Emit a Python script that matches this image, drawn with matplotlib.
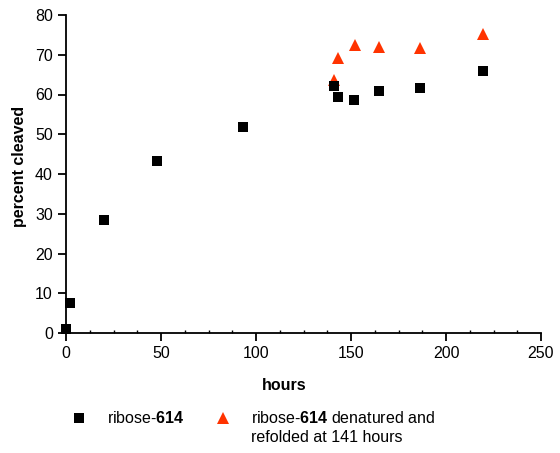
import matplotlib
matplotlib.use("Agg")
import matplotlib.pyplot as plt
from matplotlib.lines import Line2D
from matplotlib.ticker import MultipleLocator

plt.rcParams["font.family"] = ["Liberation Sans", "DejaVu Sans"]
plt.rcParams["mathtext.fontset"] = "custom"
plt.rcParams["mathtext.rm"] = "Liberation Sans"
plt.rcParams["mathtext.bf"] = "Liberation Sans:bold"

# ribose-614 cleavage time course
hours_native = [0, 2, 20, 48, 93, 141, 143, 151.5, 164.5, 186.5, 219.5]
cleaved_native = [1.0, 7.5, 28.4, 43.2, 51.8, 62.1, 59.4, 58.6, 60.9, 61.7, 65.9]

# sample denatured and refolded at 141 hours
hours_refolded = [141, 143, 152, 164.5, 186.5, 219.5]
cleaved_refolded = [63.6, 69.1, 72.4, 72.0, 71.8, 75.3]

x_ticks = [0, 50, 100, 150, 200, 250]
y_ticks = [0, 10, 20, 30, 40, 50, 60, 70, 80]

RED = "#ff3300"
FS = 11.5

W, H = 560, 453
fig = plt.figure(figsize=(W / 100, H / 100), dpi=100)
ax = fig.add_axes([66 / W, 1 - 333 / H, (541 - 66) / W, (333 - 15) / H])

ax.plot(hours_refolded, cleaved_refolded, linestyle="none", marker="^",
        markersize=8, color=RED, markeredgewidth=0, zorder=3, clip_on=False)
ax.plot(hours_native, cleaved_native, linestyle="none", marker="s",
        markersize=7.6, color="black", markeredgewidth=0, zorder=4, clip_on=False)

ax.set_xlim(0, 250)
ax.set_ylim(0, 80)
ax.set_xticks(x_ticks)
ax.set_yticks(y_ticks)
ax.xaxis.set_minor_locator(MultipleLocator(12.5))
for s in ("top", "right"):
    ax.spines[s].set_visible(False)
for s in ("left", "bottom"):
    ax.spines[s].set_linewidth(1.3)
ax.tick_params(which="major", direction="out", length=6, width=1.3,
               pad=3.5, labelsize=FS, colors="black")
ax.tick_params(axis="x", which="minor", direction="in", length=2, width=1)

fig.text(284 / W, 1 - 386 / H, "hours", ha="center", va="center",
         fontsize=FS, fontweight="bold")
fig.text(20 / W, 1 - 166 / H, "percent cleaved", ha="center", va="center",
         rotation=90, fontsize=FS, fontweight="bold")

# key
fig.add_artist(Line2D([79 / W], [1 - 418 / H], marker="s", markersize=7.6,
                      color="black", markeredgewidth=0, linestyle="none"))
fig.add_artist(Line2D([223 / W], [1 - 418 / H], marker="^", markersize=8,
                      color=RED, markeredgewidth=0, linestyle="none"))
fig.text(107 / W, 1 - 418 / H, r"ribose-$\mathbf{614}$", ha="left",
         va="center", fontsize=FS)
fig.text(251 / W, 1 - 418 / H, r"ribose-$\mathbf{614}$ denatured and",
         ha="left", va="center", fontsize=FS)
fig.text(251 / W, 1 - 437 / H, "refolded at 141 hours", ha="left",
         va="center", fontsize=FS)

fig.savefig("out.png", dpi=100)
